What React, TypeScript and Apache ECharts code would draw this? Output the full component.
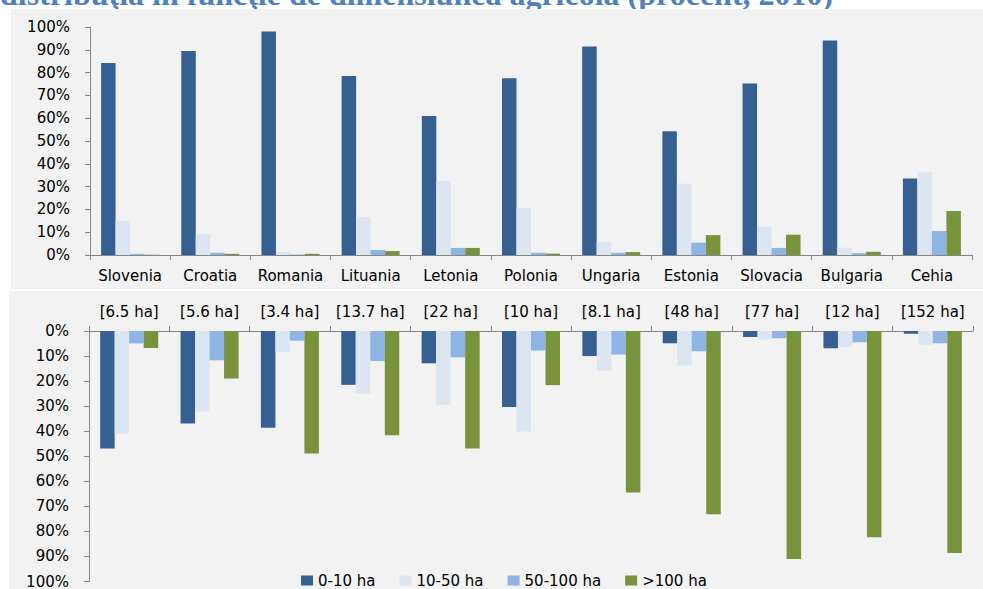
import React, { useEffect, useRef } from "react";
import * as echarts from "echarts";

const countries = ["Slovenia", "Croatia", "Romania", "Lituania", "Letonia", "Polonia", "Ungaria", "Estonia", "Slovacia", "Bulgaria", "Cehia"];
const avgSize = ["[6.5 ha]", "[5.6 ha]", "[3.4 ha]", "[13.7 ha]", "[22 ha]", "[10 ha]", "[8.1 ha]", "[48 ha]", "[77 ha]", "[12 ha]", "[152 ha]"];
const seriesNames = ["0-10 ha", "10-50 ha", "50-100 ha", ">100 ha"];
const colors = ["#376092", "#dce6f2", "#8eb4e3", "#77933c"];

// Top chart: share of farms (number) by size class
const farms0_10 = [84.2, 89.5, 98, 78.5, 61, 77.5, 91.5, 54.3, 75.2, 94.1, 33.6];
const farms10_50 = [15, 9.3, 1.5, 16.7, 32.5, 20.6, 5.8, 31.2, 12.3, 3.2, 36.3];
const farms50_100 = [0.5, 1, 0.2, 2.2, 3.1, 1, 1, 5.4, 3.1, 0.8, 10.5];
const farms100 = [0.1, 0.5, 0.5, 1.7, 3.1, 0.6, 1.3, 8.7, 8.9, 1.4, 19.3];

// Bottom chart: share of agricultural area by size class
const area0_10 = [46.9, 36.9, 38.6, 21.5, 12.9, 30.3, 10, 4.9, 2.4, 6.9, 1.1];
const area10_50 = [40.9, 32.1, 8.4, 25, 29.5, 40.1, 15.8, 13.8, 3.5, 6.4, 5.5];
const area50_100 = [5, 11.7, 3.9, 12, 10.5, 7.8, 9.4, 8.1, 2.9, 4.5, 4.9];
const area100 = [6.8, 19, 48.9, 41.6, 46.9, 21.6, 64.5, 73.2, 91, 82.3, 88.6];

const topData = [farms0_10, farms10_50, farms50_100, farms100];
const bottomData = [area0_10, area10_50, area50_100, area100];

const FONT = "DejaVu Sans";

export default function App() {
  const ref = useRef<HTMLDivElement>(null);
  useEffect(() => {
    if (!ref.current) return;
    const chart = echarts.init(ref.current, null, { renderer: "svg" });
    const axisLineStyle = { color: "#868686", width: 1 };
    const series: any[] = [];
    topData.forEach((d, i) => {
      series.push({
        name: seriesNames[i],
        type: "bar",
        xAxisIndex: 0,
        yAxisIndex: 0,
        data: d,
        barWidth: 14.5,
        barGap: "0%",
        itemStyle: { color: colors[i] },
      });
    });
    bottomData.forEach((d, i) => {
      series.push({
        name: seriesNames[i],
        type: "bar",
        xAxisIndex: 1,
        yAxisIndex: 1,
        data: d,
        barWidth: 14.5,
        barGap: "0%",
        itemStyle: { color: colors[i] },
      });
    });
    chart.setOption({
      animation: false,
      backgroundColor: "#ffffff",
      graphic: [
        {
          type: "text",
          x: 0,
          y: 10,
          z: -20,
          style: {
            text: "distribuţia în funcţie de dimensiunea agricolă (procent, 2010)",
            font: "bold 32px 'Liberation Serif'",
            fill: "#4f81bd",
            align: "left",
            verticalAlign: "bottom",
          },
        },
        { type: "rect", left: 11, top: 9, z: -10, shape: { width: 972, height: 280 }, style: { fill: "#f2f2f2" } },
        { type: "rect", left: 9, top: 291, z: -10, shape: { width: 974, height: 298 }, style: { fill: "#f2f2f2" } },
      ],
      legend: {
        data: seriesNames,
        left: 296,
        top: 568,
        itemWidth: 12,
        itemHeight: 10,
        itemGap: 24,
        icon: "rect",
        textStyle: { fontFamily: FONT, fontSize: 15, color: "#000" },
      },
      grid: [
        { left: 90, right: 11, top: 27, height: 228 },
        { left: 89, right: 10, top: 331, height: 251 },
      ],
      xAxis: [
        {
          type: "category",
          gridIndex: 0,
          data: countries,
          axisLine: { lineStyle: axisLineStyle },
          axisTick: { show: true, length: 5, lineStyle: axisLineStyle },
          axisLabel: { fontFamily: FONT, fontSize: 15, color: "#000", margin: 13, interval: 0 },
        },
        {
          type: "category",
          gridIndex: 1,
          position: "top",
          data: avgSize,
          axisLine: { lineStyle: axisLineStyle },
          axisTick: { show: true, length: 5, lineStyle: axisLineStyle },
          axisLabel: { fontFamily: FONT, fontSize: 15, color: "#000", margin: 12, interval: 0 },
        },
      ],
      yAxis: [
        {
          type: "value",
          gridIndex: 0,
          min: 0,
          max: 100,
          interval: 10,
          axisLine: { show: true, lineStyle: axisLineStyle },
          axisTick: { show: true, length: 5, lineStyle: axisLineStyle },
          splitLine: { show: false },
          axisLabel: { fontFamily: FONT, fontSize: 15, color: "#000", margin: 20, formatter: "{value}%" },
        },
        {
          type: "value",
          gridIndex: 1,
          min: 0,
          max: 100,
          interval: 10,
          inverse: true,
          axisLine: { show: true, lineStyle: axisLineStyle },
          axisTick: { show: true, length: 5, lineStyle: axisLineStyle },
          splitLine: { show: false },
          axisLabel: { fontFamily: FONT, fontSize: 15, color: "#000", margin: 20, formatter: "{value}%" },
        },
      ],
      series,
    });
    return () => chart.dispose();
  }, []);
  return (
    <div
      ref={ref}
      style={{ position: "absolute", left: 0, top: 0, width: 983, height: 589 }}
    />
  );
}
